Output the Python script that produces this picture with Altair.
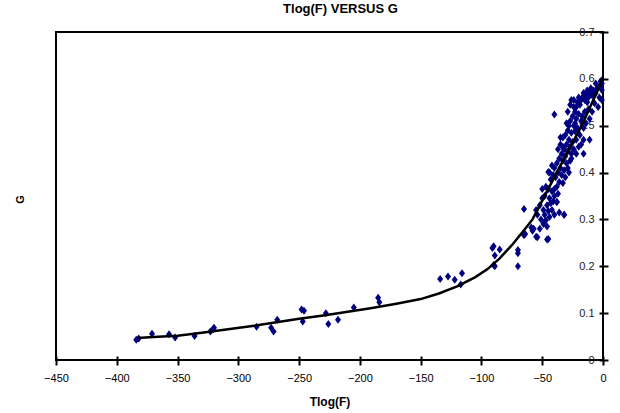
import altair as alt
import pandas as pd

# Step-like fitted curve
curve_x = [-383, -370, -350, -330, -310, -290, -270, -250, -230, -210, -190, -170,
           -150, -135, -120, -105, -95, -85, -75, -65, -58, -50, -42, -35, -28,
           -20, -14, -8, -4, 0]
curve_g = [0.047, 0.049, 0.052, 0.058, 0.065, 0.072, 0.080, 0.088, 0.095, 0.103,
           0.111, 0.120, 0.130, 0.142, 0.157, 0.177, 0.194, 0.217, 0.245, 0.277,
           0.300, 0.340, 0.380, 0.415, 0.450, 0.488, 0.520, 0.555, 0.578, 0.605]

# Observed points (estimated)
pts_x = [-384, -382, -371, -357, -352, -336, -323, -321, -320, -285, -273, -271, -268,
         -247, -246, -248, -228, -226, -218, -205, -185, -184,
         -134, -127.5, -122, -116, -117, -91, -90, -89, -90, -89, -85, -70, -70, -70,
         -65, -64, -65, -59, -58, -55, -46, -32, -38, -57, -54, -50, -45,
         -2, -1, -1, -3, -5, -6, -8, -9, -10, -11, -12, -13, -14, -15, -16, -17, -18,
         -19, -20, -21, -22, -23, -24, -26, -19, -7, -4, -9, -12, -15, -17, -20, -22,
         -25, -27, -24, -28, -30, -18, -14, -11, -40,
         -21, -23, -26, -29, -31, -19, -16, -22, -25, -28, -33, -30, -27, -24, -20,
         -18, -35, -32, -29, -26, -34, -37, -22, -31, -11, -16,
         -36, -33, -30, -27, -38, -35, -32, -29, -40, -42, -37, -34, -31, -39, -41,
         -44, -45, -36, -33, -43, -38, -28, -26,
         -40, -42, -45, -47, -37, -40, -44, -48, -50, -43, -46, -41, -38, -49, -45,
         -42, -52, -48, -44, -40, -51, -47, -36, -32, -54, -55, -49, -46, -52,
         -1, -3, -6, -13, -24, -29, -27, -23, -35, -33, -16]
pts_g = [0.043, 0.046, 0.056, 0.055, 0.048, 0.051, 0.061, 0.065, 0.069, 0.071, 0.069, 0.061, 0.086,
         0.082, 0.105, 0.108, 0.100, 0.077, 0.086, 0.112, 0.133, 0.123,
         0.173, 0.178, 0.171, 0.185, 0.161, 0.239, 0.243, 0.223, 0.203, 0.200, 0.236, 0.235, 0.228, 0.200,
         0.322, 0.269, 0.266, 0.283, 0.276, 0.263, 0.257, 0.310, 0.337, 0.280, 0.262, 0.365, 0.258,
         0.595, 0.576, 0.555, 0.585, 0.580, 0.570, 0.575, 0.565, 0.580, 0.570, 0.560, 0.575, 0.565, 0.555, 0.570, 0.560, 0.555,
         0.545, 0.560, 0.550, 0.540, 0.530, 0.555, 0.555, 0.555, 0.548, 0.540, 0.530, 0.535, 0.530, 0.520, 0.525, 0.515,
         0.520, 0.510, 0.500, 0.500, 0.505, 0.510, 0.505, 0.515, 0.524,
         0.495, 0.488, 0.485, 0.490, 0.480, 0.480, 0.470, 0.470, 0.465, 0.470, 0.475, 0.460, 0.455, 0.450, 0.455,
         0.460, 0.460, 0.450, 0.445, 0.440, 0.440, 0.450, 0.440, 0.435, 0.470, 0.440,
         0.430, 0.425, 0.420, 0.425, 0.420, 0.410, 0.405, 0.410, 0.410, 0.415, 0.400, 0.395, 0.390, 0.390, 0.395,
         0.400, 0.401, 0.380, 0.378, 0.385, 0.370, 0.400, 0.430,
         0.365, 0.360, 0.365, 0.370, 0.355, 0.350, 0.345, 0.350, 0.345, 0.335, 0.330, 0.338, 0.337, 0.320, 0.318,
         0.320, 0.330, 0.310, 0.305, 0.310, 0.300, 0.298, 0.315, 0.310, 0.310, 0.320, 0.290, 0.285, 0.280,
         0.590, 0.560, 0.590, 0.550, 0.540, 0.530, 0.545, 0.505, 0.475, 0.455, 0.495]

x_ticks = [-450, -400, -350, -300, -250, -200, -150, -100, -50, 0]
y_ticks = [0, 0.1, 0.2, 0.3, 0.4, 0.5, 0.6, 0.7]

df_pts = pd.DataFrame({"x": pts_x, "g": pts_g})
df_line = pd.DataFrame({"x": curve_x, "g": curve_g})

FONT = "Liberation Sans"

x_enc = alt.X("x:Q",
              scale=alt.Scale(domain=[-450, 0], nice=False),
              axis=alt.Axis(values=x_ticks, format="d", title="Tlog(F)", grid=False,
                            domain=False, tickSize=9, offset=-4, tickColor="black",
                            tickWidth=2, labelPadding=7, labelFontSize=11,
                            labelColor="black", labelFont=FONT, titleFont=FONT,
                            titleFontSize=12, titleFontWeight="bold", titleColor="black",
                            titlePadding=13, labelFlush=False))
y_enc = alt.Y("g:Q",
              scale=alt.Scale(domain=[0, 0.7], nice=False),
              axis=alt.Axis(orient="right", values=y_ticks, format=".1~f", title="G",
                            grid=False, domain=False, tickSize=9, offset=-4,
                            tickColor="black", tickWidth=2, labelPadding=-14,
                            labelAlign="right", labelBaseline="middle",
                            labelFontSize=11, labelColor="#222222", labelFont=FONT,
                            labelFlush=False, labelOverlap=False,
                            titleFont=FONT, titleFontSize=11, titleFontWeight="bold",
                            titleColor="black", titleAngle=270, titleX=-579, titleY=167,
                            titleAlign="center", titleBaseline="middle"))

diamond = "M0,-1L0.75,0L0,1L-0.75,0Z"

points = alt.Chart(df_pts).mark_point(
    shape=diamond, filled=True, color="#000080", size=64, opacity=1, strokeWidth=0
).encode(x=x_enc, y=y_enc)

line = alt.Chart(df_line).mark_line(color="black", strokeWidth=2.5).encode(
    x=alt.X("x:Q"), y=alt.Y("g:Q"))

chart = alt.layer(points, line).properties(
    width=547, height=328,
    autosize=alt.AutoSizeParams(type="none"),
    padding={"left": 56, "top": 32, "right": 17, "bottom": 53},
    title=alt.TitleParams("Tlog(F) VERSUS G", fontSize=13, fontWeight="bold",
                          font=FONT, color="black", offset=10, anchor="middle", dx=11),
).configure(background="white").configure_view(stroke="black", strokeWidth=2)

chart.save("out.html", embed_options={"renderer": "svg", "actions": False})
